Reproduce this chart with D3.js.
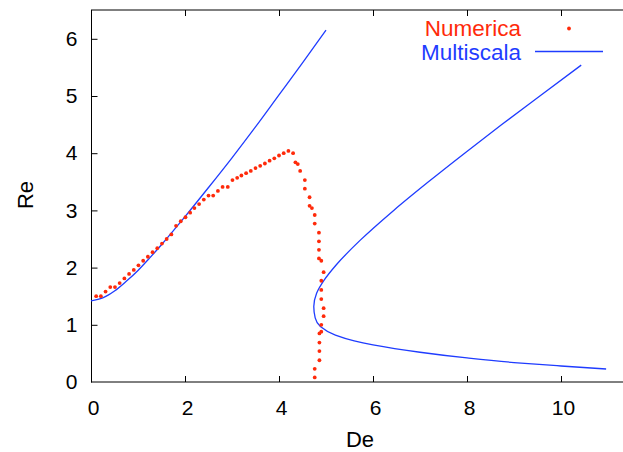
<!DOCTYPE html>
<html><head><meta charset="utf-8">
<script src="https://cdn.jsdelivr.net/npm/d3@7"></script>
<style>body{margin:0;background:#fff}svg{display:block;font-family:"Liberation Sans",Arial,sans-serif}</style>
</head><body>
<svg id="c" width="623" height="452"></svg>
<script>
// Data
const numDe = [0.11,0.21,0.31,0.41,0.51,0.61,0.71,0.81,0.91,1.01,1.11,1.21,1.31,1.41,1.51,1.61,1.71,1.81,1.91,2.01,2.11,2.20,2.30,2.40,2.50,2.60,2.70,2.80,2.91,3.01,3.11,3.20,3.30,3.40,3.50,3.60,3.70,3.80,3.90,4.00,4.10,4.20,4.30,4.35,4.40,4.45,4.55,4.55,4.65,4.65,4.70,4.76,4.76,4.85,4.85,4.85,4.85,4.90,4.95,4.90,4.90,4.90,4.95,4.95,4.90,4.90,4.86,4.86,4.86,4.86,4.76,4.76];
const numRe = [1.50,1.50,1.58,1.66,1.66,1.73,1.81,1.89,1.96,2.04,2.12,2.19,2.27,2.34,2.42,2.50,2.58,2.73,2.81,2.88,2.96,3.04,3.11,3.19,3.26,3.26,3.34,3.41,3.41,3.53,3.57,3.61,3.65,3.69,3.74,3.78,3.82,3.87,3.91,3.96,4.00,4.04,4.00,3.84,3.81,3.69,3.53,3.38,3.23,3.08,3.04,2.92,2.77,2.61,2.46,2.31,2.16,2.12,1.92,1.77,1.61,1.45,1.29,1.15,1.00,0.88,0.85,0.69,0.54,0.38,0.23,0.08];

const multiLowDe = [0.00,0.25,0.50,0.75,1.00,1.25,1.50,2.00,2.50,3.00,3.50,4.00,4.50,5.00];
const multiLowRe = [1.42,1.47,1.59,1.76,1.95,2.17,2.40,2.89,3.40,3.92,4.46,5.02,5.58,6.15];

const multiHighRe = [0.227,0.28,0.34,0.42,0.52,0.65,0.72,0.82,0.97,1.12,1.32,1.55,1.78,2.05,2.48,3.00,3.50,4.00,4.50,5.00,5.54];
const multiHighDe = [10.96,10.0,9.0,8.0,7.0,6.0,5.6,5.2,4.88,4.77,4.74,4.80,4.96,5.22,5.73,6.44,7.18,7.95,8.74,9.55,10.43];

const xTicks = [0,2,4,6,8,10];
const yTicks = [0,1,2,3,4,5,6];
const legendLabels = ["Numerica","Multiscala"];

const red = "#ff2a0a", blue = "#1f3cff";
const svg = d3.select("#c");
const x = d3.scaleLinear().domain([0,11.5]).range([91,631.5]);
const y = d3.scaleLinear().domain([0,6.5]).range([382,10.2]);

// frame
const fr = svg.append("g");
fr.append("line").attr("x1",91).attr("x2",623).attr("y1",382).attr("y2",382).attr("stroke","#000");
fr.append("line").attr("x1",91).attr("x2",623).attr("y1",10).attr("y2",10).attr("stroke","#000");
fr.append("line").attr("x1",91.5).attr("x2",91.5).attr("y1",10).attr("y2",382.5).attr("stroke","#000");

// axes with inward ticks
const xa = svg.append("g").attr("transform","translate(0,382)")
  .call(d3.axisBottom(x).tickValues(xTicks).tickSize(-6).tickPadding(18).tickFormat(d3.format("d")));
const xt = svg.append("g").attr("transform","translate(0,10)")
  .call(d3.axisTop(x).tickValues(xTicks).tickSize(-6).tickFormat(""));
const ya = svg.append("g").attr("transform","translate(91.5,0)")
  .call(d3.axisLeft(y).tickValues(yTicks).tickSize(-6).tickPadding(14).tickFormat(d3.format("d")));
[xa,xt,ya].forEach(g=>{g.select(".domain").remove();g.selectAll("line").attr("stroke","#000");
  g.selectAll("text").attr("font-size",21).attr("fill","#000").attr("font-family","Liberation Sans, Arial, sans-serif");});
xa.selectAll(".tick text").attr("dx",2);
xt.selectAll(".tick").filter(d=>d===0).remove();
xa.selectAll(".tick line").filter(d=>d===0).remove();
ya.selectAll(".tick line").filter(d=>d===0).remove();

// labels
svg.append("text").attr("x",360).attr("y",447).attr("text-anchor","middle").attr("font-size",22).text("De");
svg.append("text").attr("transform","translate(33,195) rotate(-90)").attr("text-anchor","middle").attr("font-size",22).text("Re");

// curves
const lineLow = d3.line().x(i=>x(multiLowDe[i])).y(i=>y(multiLowRe[i])).curve(d3.curveMonotoneX);
svg.append("path").attr("d",lineLow(d3.range(multiLowDe.length))).attr("fill","none").attr("stroke",blue).attr("stroke-width",1.3);
const lineHigh = d3.line().x(i=>x(multiHighDe[i])).y(i=>y(multiHighRe[i])).curve(d3.curveMonotoneY);
svg.append("path").attr("d",lineHigh(d3.range(multiHighDe.length))).attr("fill","none").attr("stroke",blue).attr("stroke-width",1.3);

// points
svg.append("g").selectAll("circle").data(d3.range(numDe.length)).join("circle")
  .attr("cx",i=>x(numDe[i])).attr("cy",i=>y(numRe[i])).attr("r",1.9).attr("fill",red);

// legend
const lg = svg.append("g");
lg.append("text").attr("x",521).attr("y",36).attr("text-anchor","end").attr("font-size",22.5).attr("fill",red).text(legendLabels[0]);
lg.append("circle").attr("cx",569).attr("cy",28.5).attr("r",1.9).attr("fill",red);
lg.append("text").attr("x",521).attr("y",60).attr("text-anchor","end").attr("font-size",22.5).attr("fill",blue).text(legendLabels[1]);
lg.append("line").attr("x1",535).attr("x2",603).attr("y1",51.5).attr("y2",51.5).attr("stroke",blue).attr("stroke-width",1.3);
</script>
</body></html>
